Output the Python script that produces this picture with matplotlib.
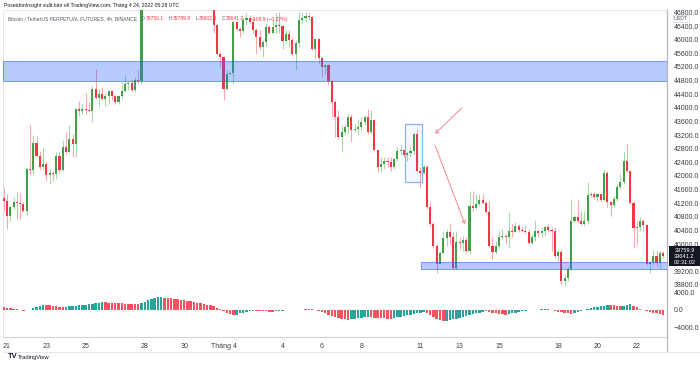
import matplotlib
matplotlib.use('Agg')
import matplotlib.pyplot as plt
from matplotlib.patches import Rectangle, FancyArrowPatch
import numpy as np

plt.rcParams['font.family'] = ['Liberation Sans Narrow', 'Liberation Sans', 'DejaVu Sans']
plt.rcParams['axes.unicode_minus'] = True

# ---------------- data (4h candles, BTC/USDT perp) ----------------
first_open = 41352
close = [41254, 40812, 41077, 41224, 41195, 41175, 40979, 42207, 42187, 42972,
         42579, 42256, 42354, 42040, 42079, 42059, 42579, 42187, 42864, 42697,
         43071, 42943, 43974, 43896, 43954, 43925, 43896, 44544, 44298, 44416,
         44269, 44347, 44485, 44338, 44170, 44338, 44485, 44691, 44730, 44534,
         44828, 44789, 46950,
         47300, 47500, 47200, 47000, 47150, 47050, 47300, 47600, 47800, 47700,
         48000, 47600, 47400, 47300, 47150, 47200, 47050, 47300, 47400, 47350, 47150,
         46429, 45575, 45496, 44563, 45005, 45035, 46508, 46311, 46262, 46576,
         46626, 46527, 46282, 46085, 45791, 45938, 46380, 46203, 46380, 46429,
         46400, 45968, 46164, 45987, 45594, 45889, 46576, 46626, 46704, 46655,
         45712, 46007, 45467, 45202, 45251, 44789, 44170, 43729, 43139, 43287,
         43434, 43729, 43336, 43385, 43434, 43581, 43729, 43287, 43630, 42747,
         42256, 42354, 42452, 42423, 42275, 42501, 42727, 42766, 42629, 42678,
         42727, 43218, 42157, 42098, 42275, 41077, 40586, 39948, 39408, 39752,
         40174, 40341, 40193, 39290, 40075, 40046, 40115, 39801, 41126, 41048,
         41175, 41293, 41195, 40930, 39948, 39781, 39948, 40193, 40242, 40193,
         40390, 40360, 40537, 40419, 40370, 40350, 40046, 40193, 40370, 40311,
         40390, 40488, 40410, 40370, 39653, 39781, 38917, 39015, 39260, 40684,
         40783, 40665, 40586, 40665, 41441, 41470, 41372, 41470, 41293, 42079,
         41224, 41156, 41323, 41686, 41814, 42432, 42138, 41195, 40468, 40488,
         40684, 40567, 39408, 39486, 39653, 39457, 39750, 39641.2]
high = [41666, 41470, 41126, 41372, 41519, 41490, 41224, 42256, 43503, 43187,
        43159, 42727, 42845, 42403, 42207, 42157, 42717, 42697, 43041, 43287,
        43483, 43238, 44003, 44200, 44102, 44445, 44170, 44642, 45133, 44563,
        44612, 44436, 44495, 44534, 44386, 44367, 44760, 44956, 44789, 44809,
        44907, 45103, 47100,
        47500, 47650, 47550, 47300, 47350, 47250, 47450, 47750, 48000, 47900,
        48200, 48050, 47700, 47500, 47400, 47350, 47300, 47450, 47600, 47500, 47400,
        47250, 46450, 45644, 45496, 45103, 45054, 46576, 46527, 46380, 46675,
        46773, 46724, 46675, 46331, 46282, 45987, 46478, 46429, 46576, 46773,
        46822, 46429, 46282, 46282, 46085, 45987, 46822, 46773, 46822, 46773,
        46694, 46036, 46036, 45496, 45300, 45300, 44850, 44220, 43925, 43483,
        43532, 43827, 43827, 43532, 43680, 43729, 43778, 43974, 43925, 43650,
        42747, 42550, 42550, 42550, 42550, 42550, 42845, 42894, 42796, 42697,
        42845, 43257, 43385, 42256, 42334, 42334, 41224, 40635, 39997, 39801,
        40390, 40439, 40615, 40341, 40390, 40193, 40242, 40213, 41568, 41568,
        41470, 41470, 41470, 41274, 41274, 40193, 40095, 40390, 40439, 40292,
        40930, 40586, 40635, 40586, 40488, 40537, 40439, 40292, 40704, 40410,
        40488, 40537, 40586, 40488, 40488, 39850, 39850, 39113, 39359, 41323,
        40861, 41293, 40979, 40979, 41814, 41519, 41519, 41490, 41421, 42177,
        42157, 41274, 41421, 41765, 42059, 42698, 42943, 42157, 41274, 40684,
        40783, 40734, 40586, 39506, 39820, 39801, 39790, 39789.8]
low = [40979, 40439, 40684, 41028, 40734, 40734, 40930, 40861, 42059, 42059,
       42550, 42207, 42207, 41863, 41765, 41863, 41912, 42059, 42157, 42648,
       42697, 42550, 42550, 43748, 43807, 43807, 43876, 43581, 44269, 44023,
       44220, 44043, 44121, 44220, 44121, 44121, 44269, 44465, 44514, 44465,
       44465, 44730, 44711,
       46950, 47150, 47050, 46950, 46950, 46950, 47000, 47250, 47500, 47400,
       47600, 47450, 47250, 47150, 47000, 47050, 46950, 47000, 47200, 47150, 47000,
       46184, 45545, 45202, 44220, 44514, 44956, 44711, 46282, 46066, 46184,
       46429, 46478, 46184, 45594, 45693, 45496, 45791, 46164, 46164, 46184,
       46184, 45712, 45889, 45791, 45545, 45103, 45791, 46478, 46527, 46576,
       45693, 45447, 45300, 44907, 44956, 44661, 43729, 43139, 43090, 42697,
       43188, 43238, 42992, 43287, 43188, 43336, 43483, 43238, 43238, 42727,
       42108, 42108, 42207, 42256, 42157, 42207, 42452, 42629, 42550, 42452,
       42550, 42648, 42108, 41666, 42059, 41028, 40537, 39899, 39162, 39408,
       39722, 39948, 39997, 39260, 39260, 39850, 39801, 39752, 39702, 40979,
       41028, 41126, 41175, 40881, 39899, 39555, 39702, 39899, 40144, 39997,
       39899, 40193, 40341, 40341, 40341, 40311, 39997, 39997, 40095, 40193,
       40193, 40242, 40341, 39801, 39604, 39506, 38819, 38770, 38917, 39231,
       40635, 40606, 40567, 40537, 40586, 41372, 41323, 41274, 41224, 41274,
       41077, 40832, 41077, 41274, 41617, 41765, 42108, 41175, 39899, 39997,
       40390, 40390, 39388, 39162, 39408, 39359, 39310, 39602.8]
macd_hist = [550, 420, 300, 180, 60, -100, -230,
             -180, -20, 250, 550, 850, 1150,
             1100, 1000, 880, 760, 660, 600,
             640, 720, 800, 880, 960, 1050, 1150, 1250, 1350, 1450, 1560, 1650,
             1640, 1600, 1560, 1520, 1470, 1420, 1380, 1330, 1280, 1230, 1180,
             1400, 1800, 2150, 2450, 2650, 2780, 2820,
             2750, 2650, 2550, 2450, 2350, 2250, 2120, 2000, 1880, 1750, 1600, 1450,
             1300, 1150, 950, 700, 450, 150,
             -300, -700, -1050, -1330,
             -1150, -900, -700, -500, -350, -230,
             -250, -300, -350, -420, -470, -500,
             -420, -320, -250, -200, -150, -100, -60, -30, 0, 80, 160, 230,
             0, -300, -600, -900, -1150, -1400, -1650, -1850, -2050, -2200, -2350,
             -2250, -2100, -1950, -1850, -1780, -1720,
             -1780, -1850, -1920, -1980, -2030, -2080, -2120,
             -1980, -1800, -1620, -1450, -1300, -1150, -1000, -870, -750, -630,
             -900, -1300, -1700, -2050, -2350, -2600,
             -2550, -2400, -2230, -2050, -1870, -1680, -1480, -1280, -1080, -880, -700, -550, -400,
             -550, -700, -850, -980, -1100, -1180,
             -1050, -900, -720, -560, -420, -280, -150,
             -100, -50, 0, 30, 50, 40, -20,
             -250, -450, -650, -800, -900, -940,
             -750, -500, -300,
             -50, 150, 350, 500, 650, 800, 920, 1020,
             980, 930, 860, 780,
             900, 1050, 1180,
             900, 580, 230,
             -100, -350, -550, -750, -900, -1050, -1180]

# date ticks (candle index of day start) and labels
tick_idx = [1, 13, 25, 43, 55, 67, 85, 97, 109, 127, 139, 151, 169, 181, 193]
tick_lbl = ['21', '23', '25', '28', '30', 'Tháng 4', '4', '6', '8', '11', '13', '15', '18', '20', '22']
price_ticks = list(range(38800, 46801, 400))
hidden_price_ticks = [39600]          # covered by the last-price label in the reference
macd_ticks = [-4000, 0, 4000]
macd_tick_lbl = ['\u22124000.0', '0.0', '4000.0']

# drawings
zone_upper = (44790, 45380)
zone_lower = (39265, 39460)
zone_lower_start = 127.2
box_idx = (122.3, 127.5)
box_price = (41833, 43512)
arrow1 = ((139.6, 43994), (131.5, 43238))
arrow2 = ((131.5, 42894), (140.6, 40586))

header_text = 'PoseidonInsight xuất bản về TradingView.com, Tháng 4 24, 2022 05:28 UTC'
title_text = 'Bitcoin / TetherUS PERPETUAL FUTURES, 4h, BINANCE'
header_keys = ['O', 'H', 'L', 'C']
header_vals = ['39750.1', '39789.8', '39602.8', '39641.2']
change_txt = '\u2212108.9 (\u22120.27%)'
last_labels = ['39759.9', '39641.2', '02:31:02']

# ---------------- styling ----------------
GREEN, RED = '#43a047', '#f23645'
GREEN_W, RED_W = '#a8d8aa', '#f7a9ae'
TEAL, HRED = '#26a69a', '#f7525f'
W, H = 700, 366

fig = plt.figure(figsize=(7, 3.66), dpi=100)
renderer = fig.canvas.get_renderer()


def fbox(x0, y0, x1, y1):
    return [x0 / W, 1 - y1 / H, (x1 - x0) / W, (y1 - y0) / H]


def fit_text(px, py, s, target_w, size, **kw):
    """Place text at pixel (px, py) and scale its font so its width is target_w px."""
    t = fig.text(px / W, 1 - py / H, s, fontsize=size, va='center', ha='left', **kw)
    w = t.get_window_extent(renderer).width
    if w > 0:
        t.set_fontsize(size * target_w / w)
    return t


def right_edge(t):
    return t.get_window_extent(renderer).x1


ax = fig.add_axes(fbox(3, 10, 667, 289))
axm = fig.add_axes(fbox(3, 289, 667, 337), sharex=ax)

n = len(close)
x = np.arange(n)
c = np.array(close, dtype=float)
o = np.array([first_open] + close[:-1], dtype=float)
hi = np.maximum(np.array(high, dtype=float), np.maximum(o, c))
lo = np.minimum(np.array(low, dtype=float), np.minimum(o, c))
up = c >= o

ax.vlines(x, lo, hi, colors=np.where(up, GREEN_W, RED_W), lw=0.8, zorder=2)
bottom = np.minimum(o, c)
height = np.maximum(np.abs(c - o), 22)
ax.bar(x, height, bottom=bottom, width=0.64, color=np.where(up, GREEN, RED), lw=0, zorder=3)

XL = (-0.22, 202.2)
ax.set_xlim(*XL)
ax.set_ylim(38681, 46871)

# zones
ax.add_patch(Rectangle((XL[0], zone_upper[0]), XL[1] - XL[0], zone_upper[1] - zone_upper[0],
                       facecolor=(0.16, 0.38, 1.0, 0.33), edgecolor=(0.16, 0.38, 1.0, 0.55),
                       lw=0.8, zorder=4))
ax.add_patch(Rectangle((zone_lower_start, zone_lower[0]), XL[1] - zone_lower_start,
                       zone_lower[1] - zone_lower[0],
                       facecolor=(0.16, 0.38, 1.0, 0.33), edgecolor=(0.16, 0.38, 1.0, 0.55),
                       lw=0.8, zorder=4))
ax.add_patch(Rectangle((box_idx[0], box_price[0]), box_idx[1] - box_idx[0], box_price[1] - box_price[0],
                       facecolor=(0.16, 0.38, 1.0, 0.04), edgecolor='#8fb0f5', lw=0.9, zorder=4))
for a in (arrow1, arrow2):
    ax.add_patch(FancyArrowPatch(a[0], a[1], arrowstyle='->,head_length=2.2,head_width=1.4',
                                 color='#f28b8e', lw=0.7, zorder=5, shrinkA=0, shrinkB=0))

# price axis
ax.yaxis.tick_right()
ax.set_yticks(price_ticks)
ax.set_yticklabels(['' if v in hidden_price_ticks else f'{v:.1f}' for v in price_ticks])
ax.tick_params(axis='y', length=0, labelsize=5.0, colors='#3b3e45', pad=5)
ax.tick_params(axis='x', length=0, labelbottom=False)
for s in ['top', 'left']:
    ax.spines[s].set_color('#e0e3eb')
    ax.spines[s].set_linewidth(0.6)
ax.spines['right'].set_color('#b2b5be')
ax.spines['right'].set_linewidth(0.8)
ax.spines['bottom'].set_color('#d1d4dc')
ax.spines['bottom'].set_linewidth(0.8)

# MACD histogram
hv = np.array(macd_hist, dtype=float)
m = len(hv)
prev = np.concatenate([[hv[0] + 1], hv[:-1]])
hcol = np.where(hv >= prev, TEAL, HRED)
axm.bar(np.arange(m), hv, width=0.75, color=hcol, lw=0, zorder=3)
axm.set_ylim(-6280, 4700)
axm.yaxis.tick_right()
axm.set_yticks(macd_ticks)
axm.set_yticklabels(macd_tick_lbl)
axm.tick_params(axis='y', length=0, labelsize=5.0, colors='#3b3e45', pad=5)
axm.set_xticks(tick_idx)
axm.set_xticklabels(tick_lbl)
axm.tick_params(axis='x', length=0, labelsize=5.0, colors='#3b3e45', pad=4)
axm.spines['top'].set_visible(False)
axm.spines['left'].set_color('#e0e3eb')
axm.spines['left'].set_linewidth(0.6)
axm.spines['right'].set_color('#b2b5be')
axm.spines['right'].set_linewidth(0.8)
axm.spines['bottom'].set_color('#d1d4dc')
axm.spines['bottom'].set_linewidth(0.8)

# figure-level lines
fig.add_artist(plt.Line2D([667 / W, 667 / W], [1 - 10 / H, 1 - 352 / H], color='#b2b5be', lw=0.8))
fig.add_artist(plt.Line2D([3 / W, 700 / W], [1 - 352 / H, 1 - 352 / H], color='#e0e3eb', lw=0.6))

# header texts
fit_text(4, 6, header_text, 179, 5.0, color='#131722')
ty = 19
t_title = fit_text(7.5, ty, title_text, 129, 4.6, color='#555a66')
fs = t_title.get_fontsize()
cur = right_edge(t_title) + 4.5
for key, val in zip(header_keys, header_vals):
    tk = fig.text(cur / W, 1 - ty / H, key, fontsize=fs, color='#555a66', va='center', ha='left')
    cur = right_edge(tk) + 0.8
    tv = fig.text(cur / W, 1 - ty / H, val, fontsize=fs, color=RED, va='center', ha='left')
    cur = right_edge(tv) + 4.5
fig.text((cur + 2) / W, 1 - ty / H, change_txt, fontsize=fs, color=RED, va='center', ha='left')

# USDT unit label
fig.text(681 / W, 1 - 18.5 / H, 'USDT', fontsize=3.8, color='#555a66', va='center', ha='center',
         bbox=dict(boxstyle='square,pad=0.25', fc='white', ec='#d1d4dc', lw=0.5))

# last price label
fig.add_artist(Rectangle((669 / W, 1 - 266 / H), 31 / W, 20 / H, transform=fig.transFigure,
                         facecolor='#131722', edgecolor='none', zorder=10))
for k, t in enumerate(last_labels):
    fig.text(684.5 / W, 1 - (250 + 6 * k) / H, t, fontsize=4.1, color='white',
             va='center', ha='center', zorder=11)

# TradingView logo
fig.text(8 / W, 1 - 357 / H, 'TV', fontsize=5.5, fontweight='bold', color='#131722', va='center', ha='left')
fit_text(18, 357, 'TradingView', 32, 5.0, color='#131722')

fig.savefig('out.png', dpi=100, facecolor='white')
